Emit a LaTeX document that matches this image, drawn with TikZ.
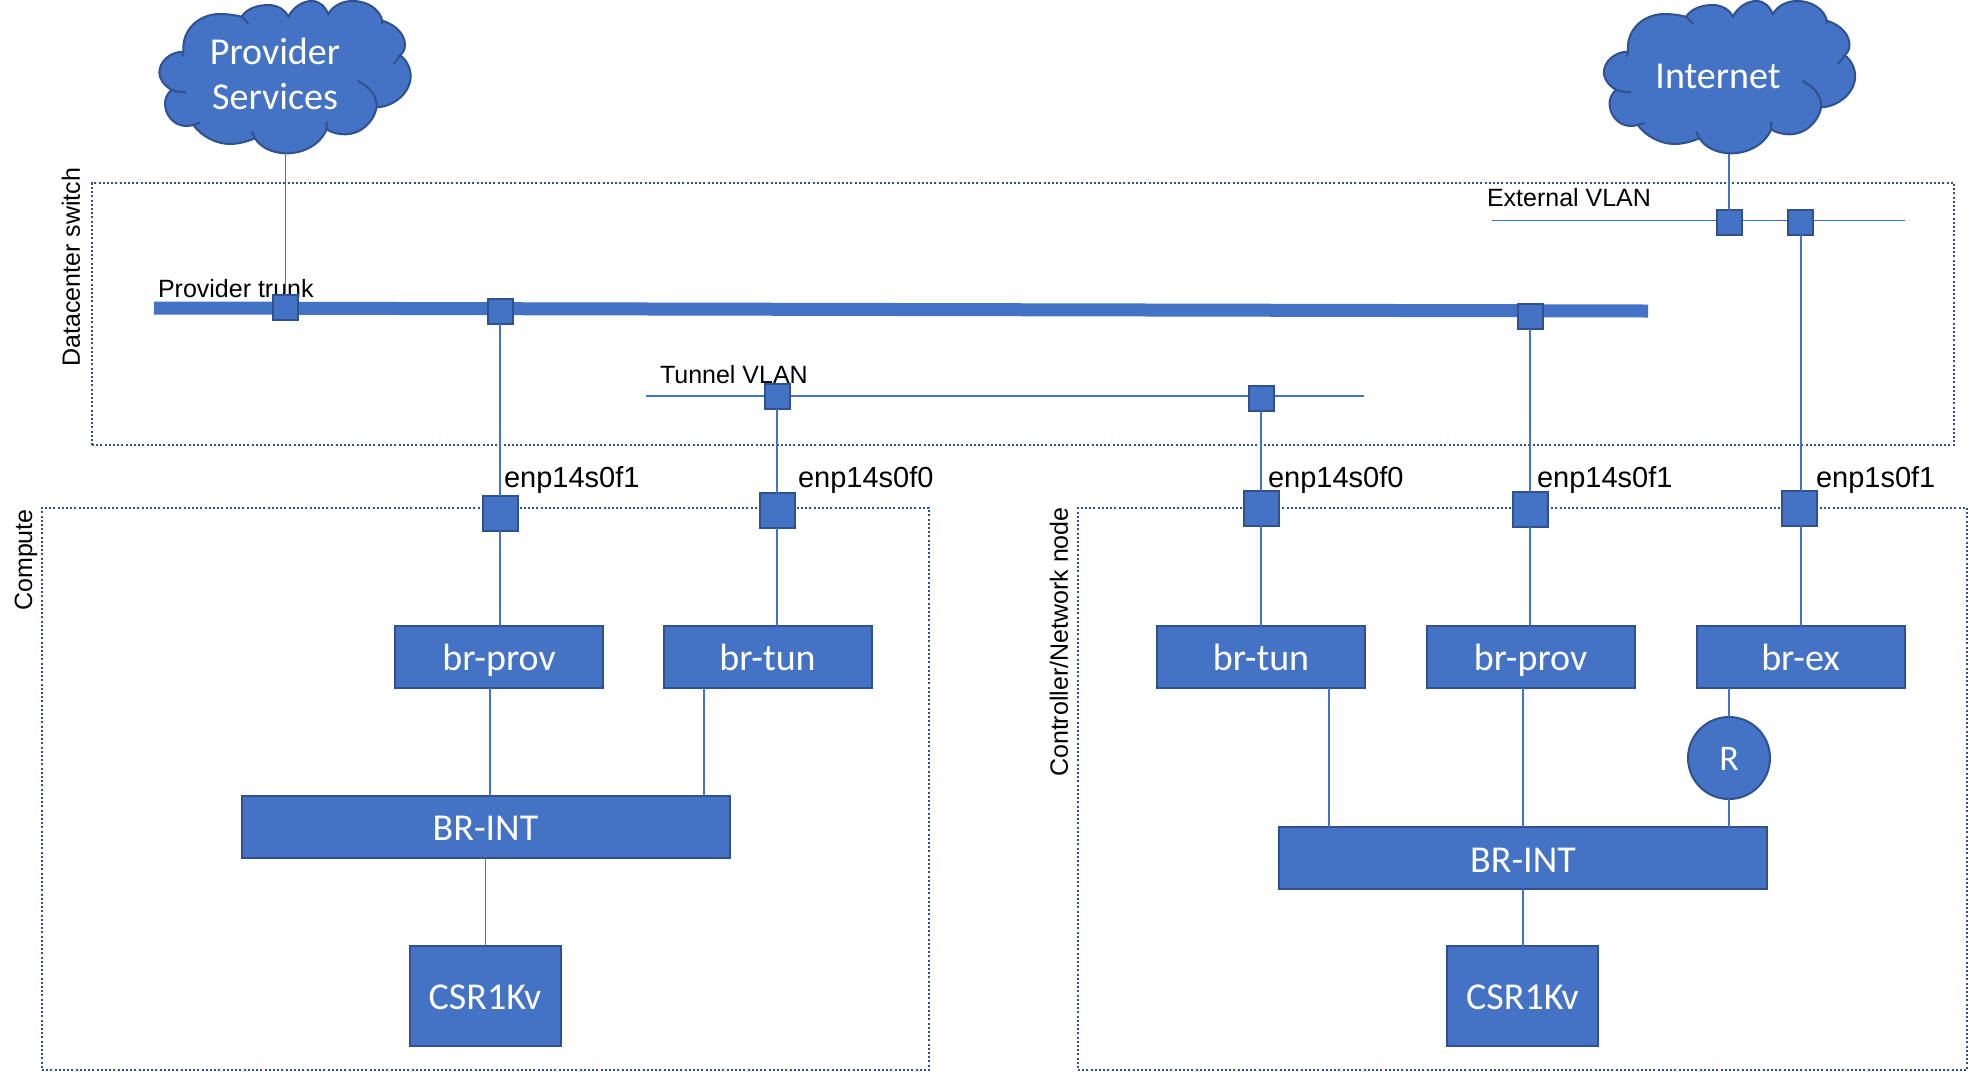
\documentclass[tikz,border=0pt]{standalone}
\usepackage{fontspec}
\setmainfont{Carlito}
\newfontfamily\labelfont{Liberation Sans}
\definecolor{fillblue}{HTML}{4472C4}
\definecolor{edgeblue}{HTML}{2F528F}
\tikzset{
  region/.style={draw=edgeblue,line width=1pt,dash pattern=on 1pt off 1.1pt,inner sep=0,outer sep=0,fill=none},
  boxn/.style={draw=edgeblue,line width=1pt,fill=fillblue,text=white,inner sep=0,outer sep=0,text height=18pt,text depth=4pt,font=\fontsize{19}{22.5}\selectfont},
  small/.style={boxn,minimum width=104pt,minimum height=31pt},
  intbr/.style={boxn,minimum width=244pt,minimum height=31pt},
  csr/.style={boxn,minimum width=75.5pt,minimum height=50pt},
  portS/.style={draw=edgeblue,line width=1pt,fill=fillblue,inner sep=0,outer sep=0,minimum size=12.5pt},
  portL/.style={draw=edgeblue,line width=1pt,fill=fillblue,inner sep=0,outer sep=0,minimum size=17.5pt},
  link/.style={draw=fillblue,line width=0.6pt},
  lbl/.style={inner sep=0,outer sep=0,anchor=base west,font=\labelfont\fontsize{14.5}{17}\selectfont},
  lblsmall/.style={inner sep=0,outer sep=0,anchor=base west,font=\labelfont\fontsize{12.5}{15}\selectfont},
  lblrot/.style={inner sep=0,outer sep=0,rotate=90,font=\labelfont\fontsize{12.5}{15}\selectfont},
  cloudtxt/.style={text=white,align=center,inner sep=0,font=\fontsize{19}{22.5}\selectfont},
}
\newcommand{\cloudat}[1]{%
  \begin{scope}[shift={(#1,0)},xscale=1/3,yscale=1/3]
    \draw[draw=edgeblue,line width=1pt,fill=fillblue]
      (160,155) .. controls (155,85) and (210,42) .. (270,42)
      .. controls (300,42) and (320,47) .. (335,50)
      .. controls (350,25) and (385,15) .. (415,15)
      .. controls (440,15) and (465,28) .. (475,50)
      .. controls (490,20) and (520,3) .. (545,3)
      .. controls (570,3) and (585,20) .. (595,42)
      .. controls (610,15) and (640,3) .. (668,3)
      .. controls (715,3) and (750,30) .. (757,62)
      .. controls (800,75) and (825,105) .. (825,135)
      .. controls (825,150) and (818,160) .. (810,165)
      .. controls (830,180) and (842,205) .. (842,228)
      .. controls (842,280) and (790,320) .. (740,322)
      .. controls (730,370) and (690,403) .. (645,403)
      .. controls (625,403) and (605,398) .. (590,388)
      .. controls (570,435) and (520,460) .. (470,460)
      .. controls (425,460) and (390,440) .. (375,415)
      .. controls (350,425) and (325,432) .. (300,432)
      .. controls (260,432) and (215,410) .. (190,375)
      .. controls (180,378) and (170,378) .. (165,378)
      .. controls (130,375) and (105,345) .. (105,310)
      .. controls (105,295) and (112,280) .. (125,270)
      .. controls (100,255) and (88,235) .. (88,218)
      .. controls (88,185) and (120,155) .. (160,155) -- cycle;
    \draw[draw=edgeblue,line width=1pt]
      (335,50) .. controls (342,57) and (350,64) .. (355,72)
      (757,62) -- (755,72)
      (810,165) .. controls (806,175) and (798,184) .. (790,191)
      (740,322) .. controls (742,285) and (715,258) .. (683,243)
      (590,388) -- (590,365)
      (375,415) -- (365,395)
      (190,375) -- (210,368)
      (125,270) .. controls (140,275) and (155,277) .. (170,277)
      (160,155) -- (157,170);
  \end{scope}}
\begin{document}
\begin{tikzpicture}[x=0.5pt,y=-0.5pt]
\fill[white,use as bounding box] (0,0) rectangle (1968,1072);
% regions
\node[region,minimum width=931pt,minimum height=131pt] (dc) at (1023,314) {};
\node[region,minimum width=443.5pt,minimum height=281pt] (compute) at (485.5,789) {};
\node[region,minimum width=444.5pt,minimum height=281pt] (ctrl) at (1522.5,789) {};
% labels
\node[lblrot] (dclbl) at (71,267) {Datacenter switch};
\node[lblrot] (complbl) at (26,560) {Compute};
\node[lblrot] (ctrllbl) at (1059,642) {Controller/Network node};
\node[lblsmall] (trunklbl) at (158,297) {Provider trunk};
\node[lblsmall] (extlbl) at (1487,206) {External VLAN};
\node[lblsmall] (tunlbl) at (660,383) {Tunnel VLAN};
\node[lbl] (ifa1) at (504,487) {enp14s0f1};
\node[lbl] (ifa2) at (798,487) {enp14s0f0};
\node[lbl] (ifb1) at (1268,487) {enp14s0f0};
\node[lbl] (ifb2) at (1537,487) {enp14s0f1};
\node[lbl] (ifb3) at (1816,487) {enp1s0f1};
% clouds
\cloudat{130}
\cloudat{1574.5}
\node[cloudtxt] (provider) at (275,74) {Provider\\Services};
\node[cloudtxt] (internet) at (1718,76) {Internet};
\coordinate (provbot) at (285.5,153);
\coordinate (netbot) at (1729,154);
% networks
\coordinate (trunkL) at (154,308);
\coordinate (trunkR) at (1648,311);
\draw[fillblue,line width=6.5pt] (trunkL) -- (trunkR);
\coordinate (tunL) at (646,396);
\coordinate (tunR) at (1364,396);
\draw[link] (tunL) -- (tunR);
\coordinate (extL) at (1492,220.5);
\coordinate (extR) at (1905,220.5);
\draw[link] (extL) -- (extR);
% switch ports
\node[portS] (p1) at (285.5,307.5) {};
\node[portS] (p2) at (500,311) {};
\node[portS] (p3) at (1530,316) {};
\node[portS] (t1) at (777,396) {};
\node[portS] (t2) at (1261,398) {};
\node[portS] (e1) at (1729,222) {};
\node[portS] (e2) at (1800,222) {};
% interface ports
\node[portL] (ia1) at (500,513) {};
\node[portL] (ia2) at (777,510) {};
\node[portL] (ib1) at (1261,508) {};
\node[portL] (ib2) at (1530,509) {};
\node[portL] (ib3) at (1799,508.5) {};
% boxes
\node[small] (provA) at (499,656.5) {br-prov};
\node[small] (tunA) at (767.5,656.5) {br-tun};
\node[intbr] (intA) at (485.5,826.5) {BR-INT};
\node[csr] (csrA) at (485,995.5) {CSR1Kv};
\node[small] (tunB) at (1261,656.5) {br-tun};
\node[small] (provB) at (1530.5,656.5) {br-prov};
\node[small] (exB) at (1800.5,656.5) {br-ex};
\node[intbr] (intB) at (1523,858) {BR-INT};
\node[csr] (csrB) at (1522.5,995.5) {CSR1Kv};
\node[boxn,circle,minimum size=41pt,text height=16pt,font=\fontsize{18}{20}\selectfont] (router) at (1729,758) {R};
% connectors
\draw[link] (provbot) -- (p1.north);
\draw[link] (netbot) -- (e1.north);
\draw[link] (p2.south) -- (ia1.north);
\draw[link] (t1.south) -- (ia2.north);
\draw[link] (t2.south) -- (ib1.north);
\draw[link] (p3.south) -- (ib2.north);
\draw[link] ([xshift=0.5pt]e2.south) -- ([xshift=1pt]ib3.north);
\draw[link] (ia1.south) -- (ia1.south |- provA.north);
\draw[link] (ia2.south) -- (ia2.south |- tunA.north);
\draw[link] (ib1.south) -- (ib1.south |- tunB.north);
\draw[link] (ib2.south) -- (ib2.south |- provB.north);
\draw[link] ([xshift=1pt]ib3.south) -- ([xshift=1pt]ib3.south |- exB.north);
\draw[link] ([xshift=-4.5pt]provA.south) -- ([xshift=-4.5pt]provA.south |- intA.north);
\draw[link] ([xshift=-31.75pt]tunA.south) -- ([xshift=-31.75pt]tunA.south |- intA.north);
\draw[link] (intA.south) -- (intA.south |- csrA.north);
\draw[link] ([xshift=34pt]tunB.south) -- ([xshift=34pt]tunB.south |- intB.north);
\draw[link] ([xshift=-3.75pt]provB.south) -- ([xshift=-3.75pt]provB.south |- intB.north);
\draw[link] (intB.south) -- (intB.south |- csrB.north);
\draw[link] (router.north) -- (router.north |- exB.south);
\draw[link] (router.south) -- (router.south |- intB.north);
\end{tikzpicture}
\end{document}
